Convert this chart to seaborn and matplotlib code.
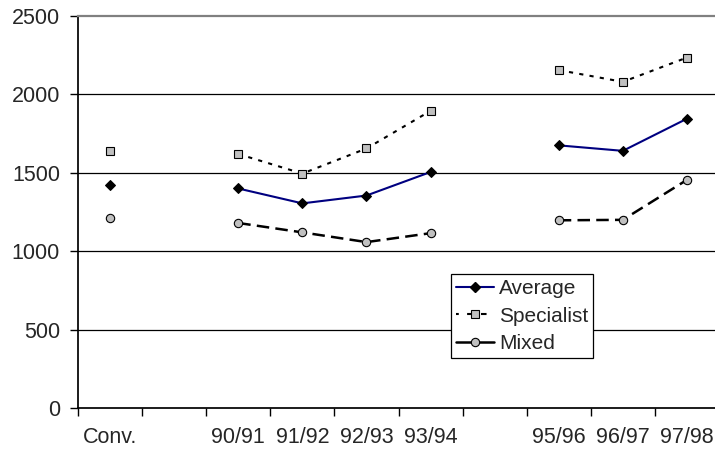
import numpy as np
import pandas as pd
import matplotlib
matplotlib.use("Agg")
import matplotlib.pyplot as plt
import seaborn as sns
from matplotlib.lines import Line2D

# categories (blank slots separate the groups)
periods = ["Conv.", "", "90/91", "91/92", "92/93", "93/94", "", "95/96", "96/97", "97/98"]
segment = [0, np.nan, 1, 1, 1, 1, np.nan, 2, 2, 2]

average = [1425, np.nan, 1400, 1305, 1355, 1505, np.nan, 1675, 1640, 1845]
specialist = [1640, np.nan, 1620, 1495, 1655, 1895, np.nan, 2155, 2080, 2235]
mixed = [1210, np.nan, 1180, 1120, 1058, 1115, np.nan, 1197, 1200, 1455]

series = {"Average": average, "Specialist": specialist, "Mixed": mixed}

sns.set_theme(style="white")
plt.rcParams["font.family"] = ["Liberation Sans", "DejaVu Sans"]
plt.rcParams["lines.scale_dashes"] = False

rows = []
for name, vals in series.items():
    for i, v in enumerate(vals):
        if not np.isnan(v):
            rows.append({"series": name, "x": i, "value": v, "segment": segment[i]})
df = pd.DataFrame(rows)

styles = {
    "Average": dict(color="#000080", linestyle="-", linewidth=1.5, marker="D",
                    markersize=5.5, markerfacecolor="black", markeredgecolor="black"),
    "Specialist": dict(color="black", linestyle=(0, (3, 4.5)), linewidth=1.5, marker="s",
                       markersize=6, markerfacecolor="#c0c0c0", markeredgecolor="black",
                       markeredgewidth=0.8),
    "Mixed": dict(color="black", linestyle=(0, (9, 4.5)), linewidth=1.8, marker="o",
                  markersize=6, markerfacecolor="#c0c0c0", markeredgecolor="black",
                  markeredgewidth=0.8),
}

fig = plt.figure(figsize=(7.15, 4.53), dpi=100)
ax = fig.add_axes([78 / 715, 45 / 453, (719 - 78) / 715, 392 / 453])

for name in series:
    sub = df[df["series"] == name]
    sns.lineplot(data=sub, x="x", y="value", units="segment", estimator=None,
                 ax=ax, legend=False, **styles[name])

ax.set_xlim(-0.5, len(periods) - 0.5)
ax.set_ylim(0, 2500)
ax.set_yticks([0, 500, 1000, 1500, 2000, 2500])
for yv in [500, 1000, 1500, 2000]:
    ax.axhline(yv, color="black", linewidth=0.9, zorder=0)

# tick marks at category boundaries, labels at centres
ax.set_xticks(np.arange(-0.5, len(periods), 1.0))
ax.set_xticklabels([])
ax.set_xticks(np.arange(len(periods)), minor=True)
ax.set_xticklabels(periods, minor=True)
ax.tick_params(axis="x", which="major", direction="out", length=6, width=1, color="black",
               bottom=True)
ax.tick_params(axis="x", which="minor", length=0, pad=14, labelsize=15.5)
ax.tick_params(axis="y", direction="out", length=6, width=1, color="black", left=True,
               pad=7, labelsize=15.5)
ax.set_xlabel("")
ax.set_ylabel("")

ax.spines["left"].set_color("black")
ax.spines["bottom"].set_color("black")
ax.spines["top"].set_color("#808080")
ax.spines["top"].set_linewidth(1.6)
ax.spines["right"].set_visible(False)

leg_styles = {n: dict(styles[n]) for n in series}
leg_styles["Mixed"]["linestyle"] = "-"
leg_styles["Specialist"]["linestyle"] = (2, (4, 6))
handles = [Line2D([], [], **leg_styles[n]) for n in series]
leg = fig.legend(handles, list(series.keys()), loc="upper left",
                 bbox_to_anchor=(451 / 715, 1 - 274 / 453), fontsize=15,
                 frameon=True, fancybox=False, edgecolor="black", framealpha=1,
                 handlelength=1.8, handletextpad=0.25, labelspacing=0.4,
                 borderpad=0.25, borderaxespad=0)
leg.get_frame().set_linewidth(0.9)

fig.savefig("out.png", dpi=100)
